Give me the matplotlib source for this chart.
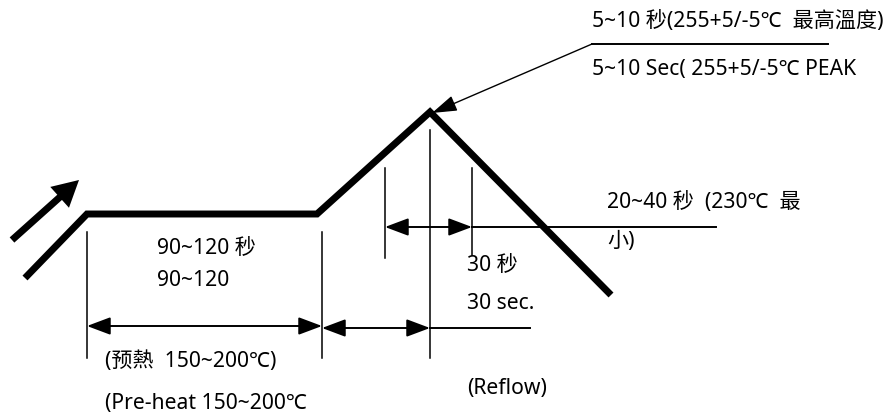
import matplotlib
matplotlib.use("Agg")
import matplotlib.pyplot as plt

plt.rcParams['font.family'] = ['Noto Sans', 'Noto Sans CJK SC', 'DejaVu Sans']

# Reflow profile outline (diagram units: x = time axis, y = screen height)
profile_x = [25, 87, 317, 430, 611]
profile_y = [278, 214, 214, 112, 295]

# Vertical marker lines: (x, top, bottom)
vlines_x = [87, 322, 430, 385, 472]
vlines_top = [232, 232, 130, 168, 168]
vlines_bot = [358, 358, 358, 258, 255]

# Dimension arrows: (x1, x2, y)
dim_x1 = [87, 322, 385]
dim_x2 = [322, 430, 472]
dim_y = [326, 328, 227]

# Extension lines
ext_x1 = [430, 472, 592]
ext_x2 = [530, 716, 828]
ext_y = [328, 227, 44]

labels = [
    ("5~10 秒(255+5/-5℃  最高溫度)", 592, 22),
    ("5~10 Sec( 255+5/-5℃ PEAK", 592, 70),
    ("20~40 秒  (230℃  最", 607, 202),
    ("小)", 607, 241),
    ("30 秒", 467, 265),
    ("30 sec.", 467, 303),
    ("90~120 秒", 157, 248),
    ("90~120", 157, 280),
    ("(预熱  150~200℃)", 105, 361),
    ("(Pre-heat 150~200℃", 105, 403),
    ("(Reflow)", 467, 388),
]

fig = plt.figure(figsize=(8.91, 4.15), dpi=100)
ax = fig.add_axes([0, 0, 1, 1])
ax.set_xlim(0, 891)
ax.set_ylim(415, 0)
ax.axis('off')

ax.plot(profile_x, profile_y, color='black', lw=5.0, solid_joinstyle='miter',
        solid_capstyle='butt')

for x, t, b in zip(vlines_x, vlines_top, vlines_bot):
    ax.plot([x, x], [t, b], color='black', lw=1.1)

for x1, x2, y in zip(dim_x1, dim_x2, dim_y):
    ax.annotate('', xy=(x2, y), xytext=(x1, y),
                arrowprops=dict(arrowstyle='<|-|>,head_length=1.2,head_width=0.45',
                                lw=1.4, color='black', mutation_scale=12,
                                shrinkA=0, shrinkB=0))

for x1, x2, y in zip(ext_x1, ext_x2, ext_y):
    ax.plot([x1, x2], [y, y], color='black', lw=1.4)

# Peak callout arrow
ax.annotate('', xy=(432, 113), xytext=(592, 44),
            arrowprops=dict(arrowstyle='-|>,head_length=1.4,head_width=0.45',
                            lw=1.0, color='black', mutation_scale=11,
                            shrinkA=0, shrinkB=0))

# Heating direction arrow (thick)
ax.arrow(12, 240, 67, -60, width=7, head_width=28, head_length=26,
         length_includes_head=True, color='black', lw=0)

for txt, x, y in labels:
    ax.text(x, y, txt, fontsize=15.2, ha='left', va='center', color='black')

fig.savefig('out.png', dpi=100)
